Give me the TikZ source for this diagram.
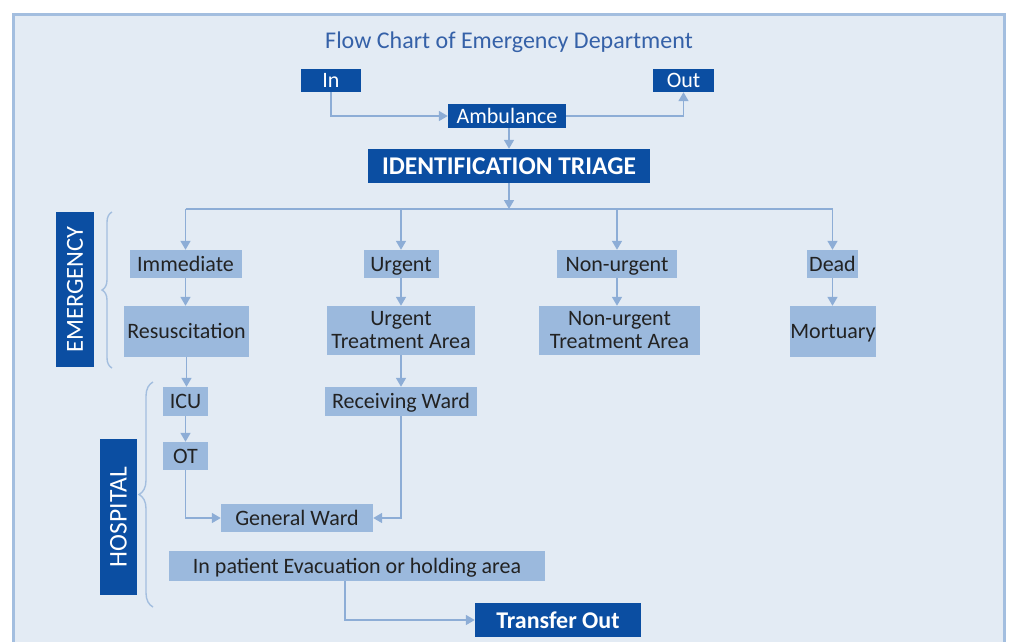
\documentclass[tikz,border=0pt]{standalone}
\usepackage{fontspec}
\setmainfont{Carlito}
\usetikzlibrary{arrows.meta,decorations.pathreplacing}
\definecolor{bgcol}{HTML}{E3EBF4}
\definecolor{framecol}{HTML}{A3BEDF}
\definecolor{darkblue}{HTML}{0B4EA2}
\definecolor{boxblue}{HTML}{9BB9DD}
\definecolor{wireblue}{HTML}{8DADD6}
\definecolor{titleblue}{HTML}{3561A8}
\definecolor{boxtext}{HTML}{222222}
\tikzset{
	evenline/.style={text height=16pt, text depth=2pt},
	darkbox/.style={fill=darkblue, text=white, inner sep=0pt},
	lightbox/.style={fill=boxblue, text=boxtext, inner sep=0pt, evenline},
	twoline/.style={fill=boxblue, text=boxtext, inner sep=0pt, align=center},
	wire/.style={draw=wireblue, line width=1.6pt},
	link/.style={wire, -{Triangle[width=10pt,length=9pt]}},
	bracket/.style={draw=framecol, line width=1.4pt, decorate}
}

\begin{document}
\begin{tikzpicture}[x=1pt, y=-1pt, font=\fontsize{22}{23}\selectfont]
	\useasboundingbox (0,0) rectangle (1009,641);
	\clip (0,0) rectangle (1009,641);
	\fill[white] (0,0) rectangle (1009,641);
	\draw[draw=framecol, line width=3pt, fill=bgcol] (13.5,14.5) rectangle (1004,690);

	\node[text=titleblue, font=\fontsize{24}{26}\selectfont] (title) at (509,42) {Flow Chart of Emergency Department};

	\node[darkbox, evenline, minimum width=60pt, minimum height=23pt] (in) at (331,80.5) {In};
	\node[darkbox, evenline, minimum width=61pt, minimum height=23pt] (out) at (683.5,80.5) {Out};
	\node[darkbox, evenline, minimum width=118pt, minimum height=24pt] (amb) at (507,116) {Ambulance};
	\node[darkbox, minimum width=282pt, minimum height=34pt, font=\fontsize{25.5}{27}\selectfont\bfseries] (triage) at (509,166) {IDENTIFICATION TRIAGE};

	\node[lightbox, minimum width=112pt, minimum height=28pt] (imm) at (185.5,264) {Immediate};
	\node[lightbox, minimum width=75pt, minimum height=28pt] (urg) at (401,264) {Urgent};
	\node[lightbox, minimum width=120pt, minimum height=28pt] (non) at (617,264) {Non-urgent};
	\node[lightbox, minimum width=51pt, minimum height=28pt] (dead) at (832.5,264) {Dead};

	\node[lightbox, minimum width=125pt, minimum height=51pt] (res) at (186.5,331.5) {Resuscitation};
	\node[twoline, minimum width=148pt, minimum height=49pt] (uta) at (401,330.5) {Urgent\\Treatment Area};
	\node[twoline, minimum width=161pt, minimum height=49pt] (nuta) at (619.5,330.5) {Non-urgent\\Treatment Area};
	\node[lightbox, minimum width=86pt, minimum height=51pt] (mort) at (833,331.5) {Mortuary};

	\node[lightbox, minimum width=45pt, minimum height=29pt] (icu) at (185.5,401.5) {ICU};
	\node[lightbox, minimum width=152pt, minimum height=29pt] (recv) at (401,401.5) {Receiving Ward};
	\node[lightbox, minimum width=45pt, minimum height=28pt] (ot) at (185.5,456) {OT};
	\node[lightbox, minimum width=152pt, minimum height=28pt] (gen) at (297,518) {General Ward};
	\node[lightbox, minimum width=376pt, minimum height=30pt] (evac) at (357,566) {In patient Evacuation or holding area};
	\node[darkbox, minimum width=166pt, minimum height=34pt, font=\fontsize{24}{26}\selectfont\bfseries] (trans) at (558,620) {Transfer Out};

	\node[darkbox, rotate=90, minimum width=155pt, minimum height=38pt, font=\fontsize{24.5}{26}\selectfont] (emerg) at (75,289.5) {EMERGENCY};
	\node[darkbox, rotate=90, minimum width=156pt, minimum height=37pt, font=\fontsize{25.5}{27}\selectfont] (hosp) at (118.5,517) {HOSPITAL};

	\draw[bracket, decoration={brace, amplitude=10pt}] (112,368) -- (112,212);
	\draw[bracket, decoration={brace, amplitude=14pt}] (153,607) -- (153,382);

	\coordinate (bar) at (509,209);
	\coordinate (evacdrop) at (345,581);

	\draw[link] (in.south) |- (amb.west);
	\draw[link] (amb.east) -| (out.south);
	\draw[link] (amb.south -| triage.north) -- (triage.north);
	\draw[link] (triage.south) -- (bar);
	\draw[wire] (imm |- bar) -- (dead |- bar);
	\foreach \n in {imm,urg,non,dead}
		\draw[link] (\n |- bar) -- (\n.north);
	\foreach \a/\b in {imm/res,urg/uta,non/nuta,dead/mort,res/icu,uta/recv,icu/ot}
		\draw[link] (\a.south) -- (\a.south |- \b.north);
	\draw[link] (ot.south) |- (gen.west);
	\draw[link] (recv.south) |- (gen.east);
	\draw[link] (evacdrop) |- (trans.west);
\end{tikzpicture}
\end{document}
